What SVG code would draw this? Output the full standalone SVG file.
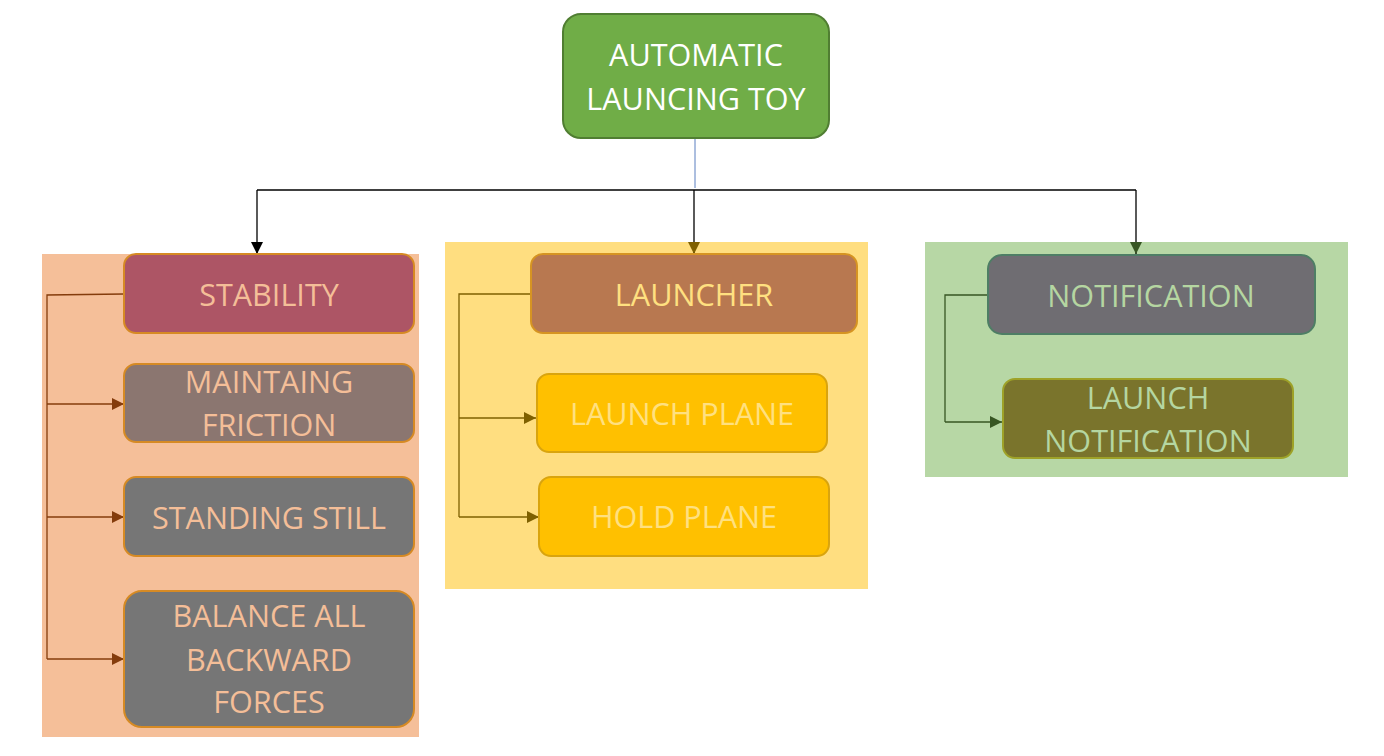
<svg xmlns="http://www.w3.org/2000/svg" width="1384" height="756" viewBox="0 0 1384 756">
<style>
text{font-family:"Open Sans","Noto Sans",sans-serif;font-size:30.6px;text-anchor:middle}
.box{stroke-width:2}
.lo{fill:#F4BE98}
.ye{fill:#FFE080}
.gr{fill:#B5D6A1}
</style>
<defs>
<marker id="aK" markerUnits="userSpaceOnUse" markerWidth="12" markerHeight="12" refX="12" refY="6" orient="auto"><path d="M0,0 L12,6 L0,12 Z" fill="#000"/></marker>
<marker id="aB" markerUnits="userSpaceOnUse" markerWidth="12" markerHeight="12" refX="12" refY="6" orient="auto"><path d="M0,0 L12,6 L0,12 Z" fill="#7F6000"/></marker>
<marker id="aG" markerUnits="userSpaceOnUse" markerWidth="12" markerHeight="12" refX="12" refY="6" orient="auto"><path d="M0,0 L12,6 L0,12 Z" fill="#375623"/></marker>
<marker id="aR" markerUnits="userSpaceOnUse" markerWidth="12" markerHeight="12" refX="12" refY="6" orient="auto"><path d="M0,0 L12,6 L0,12 Z" fill="#843C0C"/></marker>
</defs>
<g id="panels">
<rect x="42" y="254" width="377" height="483" fill="#F5BF99"/>
<rect x="445" y="242" width="423" height="347" fill="#FFDE80"/>
<rect x="925" y="242" width="423" height="235" fill="#B7D7A5"/>
</g>
<g id="connectors" fill="none">
<line x1="695" y1="138" x2="695" y2="188" stroke="#5B7FC0" stroke-width="1"/>
<path d="M257,190 H1136" stroke="#000" stroke-width="1.3"/>
<path d="M257,190 V254" stroke="#000" stroke-width="1.3" marker-end="url(#aK)"/>
<path d="M694,190 V254" stroke="#000" stroke-width="1.3" marker-end="url(#aB)"/>
<path d="M1136,190 V254" stroke="#000" stroke-width="1.3" marker-end="url(#aG)"/>
<path d="M124,294 L47,295 V659" stroke="#843C0C" stroke-width="1.3"/>
<path d="M47,404 H124" stroke="#843C0C" stroke-width="1.3" marker-end="url(#aR)"/>
<path d="M47,517 H124" stroke="#843C0C" stroke-width="1.3" marker-end="url(#aR)"/>
<path d="M47,659 H124" stroke="#843C0C" stroke-width="1.3" marker-end="url(#aR)"/>
<path d="M531,294 H459 V517" stroke="#7F6000" stroke-width="1.3"/>
<path d="M459,418 H536" stroke="#7F6000" stroke-width="1.3" marker-end="url(#aB)"/>
<path d="M459,517 H539" stroke="#7F6000" stroke-width="1.3" marker-end="url(#aB)"/>
<path d="M987,295 H945 V422" stroke="#375623" stroke-width="1.3"/>
<path d="M945,422 H1002" stroke="#375623" stroke-width="1.3" marker-end="url(#aG)"/>
</g>
<g id="root">
<rect class="box" x="563" y="14" width="266" height="124" rx="18" fill="#70AD47" stroke="#507E32"/>
<text x="696" y="66" fill="#fff">AUTOMATIC</text>
<text x="696" y="110" fill="#fff">LAUNCING TOY</text>
</g>
<g id="stability">
<rect class="box" x="124" y="254" width="290" height="79" rx="12" fill="#AD5565" stroke="#D68A24"/>
<text class="lo" x="269" y="306">STABILITY</text>
</g>
<g id="friction">
<rect class="box" x="124" y="364" width="290" height="78" rx="12" fill="#8B7670" stroke="#D68A24"/>
<text class="lo" x="269" y="393">MAINTAING</text>
<text class="lo" x="269" y="436">FRICTION</text>
</g>
<g id="standing">
<rect class="box" x="124" y="477" width="290" height="79" rx="12" fill="#767676" stroke="#D68A24"/>
<text class="lo" x="269" y="529">STANDING STILL</text>
</g>
<g id="balance">
<rect class="box" x="124" y="591" width="290" height="136" rx="18" fill="#767676" stroke="#D68A24"/>
<text class="lo" x="269" y="627">BALANCE ALL</text>
<text class="lo" x="269" y="671">BACKWARD</text>
<text class="lo" x="269" y="713">FORCES</text>
</g>
<g id="launcher">
<rect class="box" x="531" y="254" width="326" height="79" rx="12" fill="#B87850" stroke="#D69422"/>
<text class="ye" x="694" y="306">LAUNCHER</text>
</g>
<g id="launchplane">
<rect class="box" x="537" y="374" width="290" height="78" rx="12" fill="#FFC000" stroke="#D9A40E"/>
<text class="ye" x="682" y="425">LAUNCH PLANE</text>
</g>
<g id="holdplane">
<rect class="box" x="539" y="477" width="290" height="79" rx="12" fill="#FFC000" stroke="#D9A40E"/>
<text class="ye" x="684" y="528">HOLD PLANE</text>
</g>
<g id="notification">
<rect class="box" x="988" y="255" width="327" height="79" rx="14" fill="#6F6D72" stroke="#4E7E65"/>
<text class="gr" x="1151" y="307">NOTIFICATION</text>
</g>
<g id="launchnotification">
<rect class="box" x="1003" y="379" width="290" height="79" rx="12" fill="#7A742C" stroke="#9EA228"/>
<text class="gr" x="1148" y="409">LAUNCH</text>
<text class="gr" x="1148" y="452">NOTIFICATION</text>
</g>
</svg>
